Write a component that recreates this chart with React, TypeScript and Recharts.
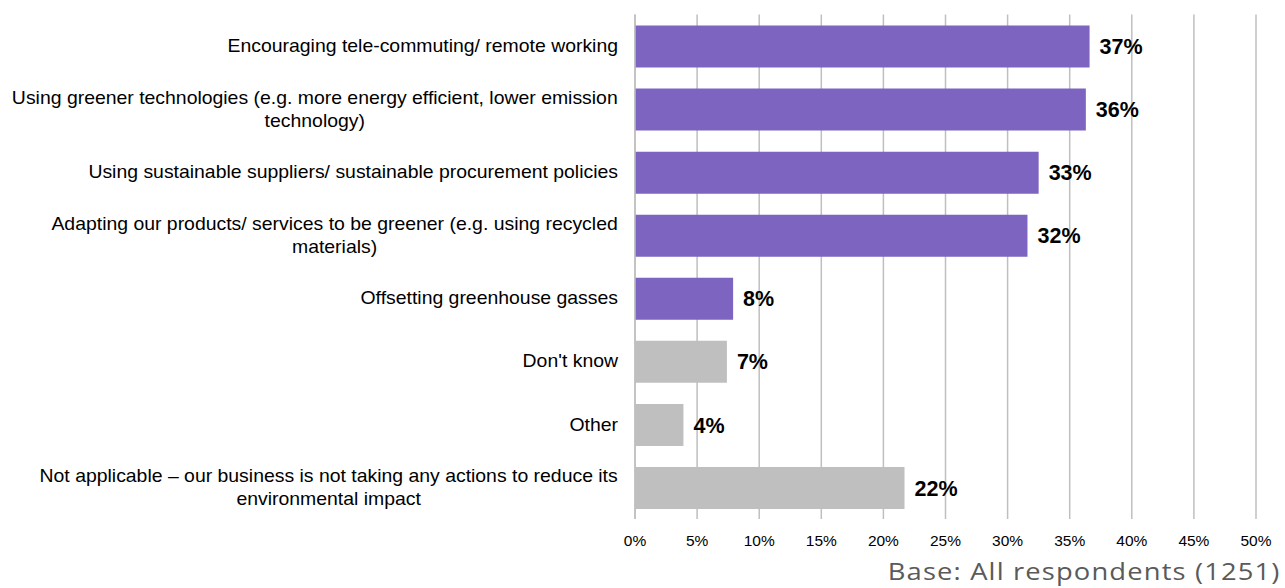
import React from 'react';
import { BarChart, Bar, XAxis, YAxis, CartesianGrid, Cell, LabelList } from 'recharts';

const categories = [
  'Encouraging tele-commuting/ remote working',
  'Using greener technologies (e.g. more energy efficient, lower emission|technology)',
  'Using sustainable suppliers/ sustainable procurement policies',
  'Adapting our products/ services to be greener (e.g. using recycled|materials)',
  'Offsetting greenhouse gasses',
  "Don't know",
  'Other',
  'Not applicable – our business is not taking any actions to reduce its|environmental impact',
];
const values = [36.6, 36.3, 32.5, 31.6, 7.9, 7.4, 3.9, 21.7];
const valueLabels = ['37%', '36%', '33%', '32%', '8%', '7%', '4%', '22%'];
const isAction = [true, true, true, true, true, false, false, false];
const xTicks = [0, 5, 10, 15, 20, 25, 30, 35, 40, 45, 50];
const footnote = 'Base: All respondents (1251)';

const PURPLE = '#7d64c0';
const GREY = '#bfbfbf';
const FONT = '"Liberation Sans", Arial, sans-serif';
const LABEL_SIZE = 17.5;
const STRETCH = 1.11;

const data = categories.map((c, i) => ({ name: c, value: values[i], label: valueLabels[i], action: isAction[i] }));

let ctx: CanvasRenderingContext2D | null = null;
function measure(t: string): number {
  if (!ctx) {
    const c = document.createElement('canvas');
    ctx = c.getContext('2d');
  }
  if (!ctx) return t.length * 8;
  ctx.font = `${LABEL_SIZE}px "Liberation Sans", Arial, sans-serif`;
  return ctx.measureText(t).width;
}

const YTick = (props: any) => {
  const { x, y, payload } = props;
  const lines: string[] = String(payload.value).split('|');
  const lh = 23;
  const tf = `translate(${x},${y}) scale(${STRETCH},1)`;
  if (lines.length === 1) {
    return (
      <text transform={tf} x={0} y={0} dy="0.35em" textAnchor="end" fontSize={LABEL_SIZE} fontFamily={FONT} fill="#000">
        {lines[0]}
      </text>
    );
  }
  const w1 = measure(lines[0]);
  const cx = -w1 / 2;
  const startY = -((lines.length - 1) * lh) / 2;
  return (
    <g transform={tf}>
      {lines.map((l, i) => (
        <text key={i} x={cx} y={startY + i * lh} dy="0.35em" textAnchor="middle" fontSize={LABEL_SIZE} fontFamily={FONT} fill="#000">
          {l}
        </text>
      ))}
    </g>
  );
};

export default function App() {
  return (
    <div style={{ position: 'absolute', left: 0, top: 0, width: 1285, height: 588, background: '#fff' }}>
      <BarChart
        width={1285}
        height={588}
        data={data}
        layout="vertical"
        margin={{ top: 14.5, right: 29, bottom: 39, left: 0 }}
        barCategoryGap={0}
      >
        <CartesianGrid horizontal={false} vertical={true} stroke="#bfbfbf" strokeWidth={1.5} />
        <XAxis
          type="number"
          domain={[0, 50]}
          ticks={xTicks}
          tickFormatter={(v: number) => `${v}%`}
          axisLine={false}
          tickLine={false}
          tickSize={8}
          tickMargin={8}
          height={30}
          interval={0}
          tick={{ fontSize: 15.5, fill: '#000', fontFamily: FONT }}
        />
        <YAxis
          type="category"
          dataKey="name"
          width={635}
          axisLine={{ stroke: '#bfbfbf', strokeWidth: 1.5 }}
          tickLine={false}
          tickSize={0}
          tickMargin={17}
          interval={0}
          tick={<YTick />}
        />
        <Bar dataKey="value" barSize={42} isAnimationActive={false}>
          {data.map((d, i) => (
            <Cell key={i} fill={d.action ? PURPLE : GREY} />
          ))}
          <LabelList
            dataKey="label"
            position="right"
            offset={10}
            fill="#000"
            fontSize={21.5}
            fontWeight="bold"
            fontFamily={FONT}
          />
        </Bar>
      </BarChart>
      <div
        style={{
          position: 'absolute',
          right: 4,
          top: 556,
          fontFamily: '"Open Sans", sans-serif',
          fontSize: 24,
          letterSpacing: 1,
          color: '#5a5a5a',
          whiteSpace: 'nowrap',
          lineHeight: '30px',
          transform: 'scaleX(1.14)',
          transformOrigin: 'right center',
        }}
      >
        {footnote}
      </div>
    </div>
  );
}
